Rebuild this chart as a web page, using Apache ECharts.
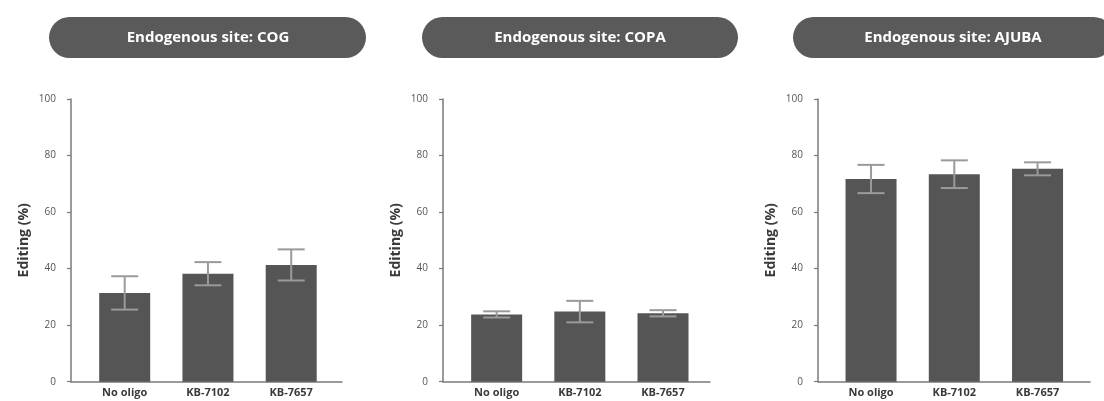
<!DOCTYPE html>
<html><head><meta charset="utf-8">
<script src="https://cdn.jsdelivr.net/npm/echarts@6/dist/echarts.min.js"></script>
<style>html,body{margin:0;padding:0;background:#fff}#c{width:1104px;height:401px}</style>
</head><body><div id="c"></div>
<script>
const categories = ['No oligo', 'KB-7102', 'KB-7657'];
const panelTitles = ['Endogenous site: COG', 'Endogenous site: COPA', 'Endogenous site: AJUBA'];
const yTicks = [0, 20, 40, 60, 80, 100];
const cogMean = [31.4, 38.2, 41.3];
const cogErr = [5.9, 4.1, 5.5];
const copaMean = [23.8, 24.8, 24.2];
const copaErr = [1.1, 3.8, 1.1];
const ajubaMean = [71.7, 73.4, 75.3];
const ajubaErr = [5.0, 4.9, 2.3];
const yAxisName = 'Editing (%)';

const means = [cogMean, copaMean, ajubaMean];
const errs = [cogErr, copaErr, ajubaErr];

const grids = [
  {left: 71, top: 99, width: 271, height: 282.7},
  {left: 443, top: 99, width: 267, height: 282.7},
  {left: 818, top: 99, width: 272, height: 282.7}
];
const xRanges = [[-0.645, 2.61], [-0.645, 2.565], [-0.637, 2.63]];
const pills = [[49, 366], [422, 738], [793, 1114]];
const textCenters = [208, 580, 953];

const FONT = '"Open Sans", "Noto Sans", sans-serif';
const chart = echarts.init(document.getElementById('c'), null, {renderer: 'canvas'});

const xAxis = [], yAxis = [], series = [], graphic = [];
for (let p = 0; p < 3; p++) {
  xAxis.push({
    gridIndex: p, type: 'value', min: xRanges[p][0], max: xRanges[p][1],
    splitLine: {show: false},
    axisLine: {show: true, onZero: false, lineStyle: {color: '#7a7a7a', width: 1.5}},
    axisTick: {show: false},
    axisLabel: {
      customValues: [0, 1, 2], margin: 6,
      formatter: v => categories[Math.round(v)] || '',
      fontFamily: FONT, fontWeight: 'bold', fontSize: 11, color: '#3a3a3a'
    }
  });
  yAxis.push({
    gridIndex: p, type: 'value', min: 0, max: 100, interval: 20,
    splitLine: {show: false},
    axisLine: {show: true, onZero: false, lineStyle: {color: '#7a7a7a', width: 1.5}},
    axisTick: {show: true, inside: false, length: 4, lineStyle: {color: '#7a7a7a', width: 1.2}},
    axisLabel: {margin: 15, fontFamily: FONT, fontSize: 10, color: '#555',
      formatter: v => yTicks.includes(v) ? String(v) : ''},
    name: yAxisName, nameLocation: 'middle', nameGap: 40,
    nameTextStyle: {fontFamily: FONT, fontWeight: 'bold', fontSize: 14, color: '#3a3a3a'}
  });
  series.push({
    type: 'bar', xAxisIndex: p, yAxisIndex: p, barWidth: 51,
    itemStyle: {color: '#555555'},
    data: means[p].map((v, i) => [i, v]),
    z: 2
  });
  series.push({
    type: 'custom', xAxisIndex: p, yAxisIndex: p, z: 3,
    data: means[p].map((v, i) => [i, v - errs[p][i], v + errs[p][i]]),
    renderItem: function (params, api) {
      const lo = api.coord([api.value(0), api.value(1)]);
      const hi = api.coord([api.value(0), api.value(2)]);
      const hw = 13.5;
      const style = {stroke: '#9a9a9a', lineWidth: 2, fill: null};
      return {type: 'group', children: [
        {type: 'line', shape: {x1: lo[0], y1: lo[1], x2: hi[0], y2: hi[1]}, style},
        {type: 'line', shape: {x1: hi[0] - hw, y1: hi[1], x2: hi[0] + hw, y2: hi[1]}, style},
        {type: 'line', shape: {x1: lo[0] - hw, y1: lo[1], x2: lo[0] + hw, y2: lo[1]}, style}
      ]};
    }
  });
  graphic.push({
    type: 'rect', shape: {x: pills[p][0], y: 17, width: pills[p][1] - pills[p][0], height: 41, r: 20.5},
    style: {fill: '#5a5a5a'}
  });
  graphic.push({
    type: 'text', x: textCenters[p], y: 38,
    style: {text: panelTitles[p], fill: '#ffffff', font: 'bold 15px ' + FONT, align: 'center', verticalAlign: 'middle'}
  });
}

chart.setOption({
  animation: false,
  backgroundColor: '#ffffff',
  grid: grids,
  xAxis, yAxis, series, graphic
});
</script>
</body></html>
